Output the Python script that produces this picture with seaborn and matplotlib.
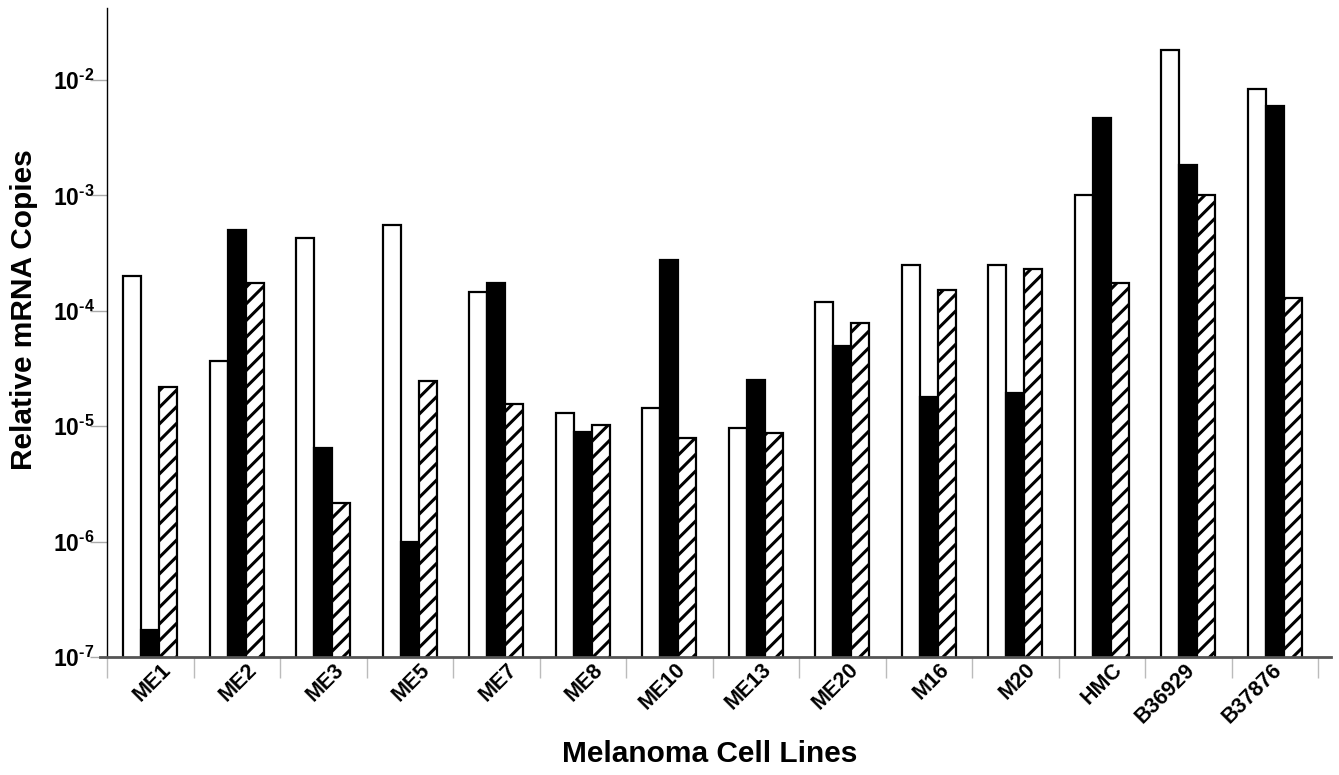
import matplotlib
matplotlib.use("Agg")
import matplotlib.pyplot as plt
import matplotlib.transforms as mtransforms
import seaborn as sns
import pandas as pd
import numpy as np
from matplotlib.ticker import FixedLocator, NullLocator

cell_lines = ["ME1", "ME2", "ME3", "ME5", "ME7", "ME8", "ME10", "ME13",
              "ME20", "M16", "M20", "HMC", "B36929", "B37876"]
series_names = ["Series A", "Series B", "Series C"]
series_a = [2.0e-4, 3.7e-5, 4.3e-4, 5.5e-4, 1.45e-4, 1.3e-5, 1.45e-5, 9.6e-6,
            1.2e-4, 2.5e-4, 2.5e-4, 1.0e-3, 1.8e-2, 8.3e-3]
series_b = [1.7e-7, 5.0e-4, 6.5e-6, 1.0e-6, 1.75e-4, 8.9e-6, 2.75e-4, 2.5e-5,
            5.0e-5, 1.8e-5, 1.95e-5, 4.7e-3, 1.85e-3, 5.9e-3]
series_c = [2.2e-5, 1.75e-4, 2.15e-6, 2.45e-5, 1.55e-5, 1.02e-5, 7.9e-6, 8.7e-6,
            7.9e-5, 1.5e-4, 2.3e-4, 1.75e-4, 1.0e-3, 1.28e-4]
y_ticks = [1e-7, 1e-6, 1e-5, 1e-4, 1e-3, 1e-2]
y_tick_labels = ["$10^{\u20107}$", "$10^{\u20106}$", "$10^{\u20105}$",
                 "$10^{\u20104}$", "$10^{\u20103}$", "$10^{\u20102}$"]

rows = []
for name, vals in zip(series_names, [series_a, series_b, series_c]):
    for cl, v in zip(cell_lines, vals):
        rows.append({"cell": cl, "series": name, "value": v})
df = pd.DataFrame(rows)

sns.set_style("white")
plt.rcParams["font.family"] = ["Liberation Sans", "DejaVu Sans"]
plt.rcParams["font.weight"] = "bold"
plt.rcParams["text.color"] = "black"
plt.rcParams["axes.labelcolor"] = "black"
plt.rcParams["xtick.labelcolor"] = "black"
plt.rcParams["ytick.labelcolor"] = "black"
plt.rcParams["mathtext.fontset"] = "custom"
plt.rcParams["mathtext.rm"] = "Liberation Sans:bold"
plt.rcParams["mathtext.bf"] = "Liberation Sans:bold"
plt.rcParams["mathtext.default"] = "rm"
plt.rcParams["hatch.linewidth"] = 2.2
plt.rcParams["hatch.color"] = "black"

W, H = 1339, 775
fig = plt.figure(figsize=(W/100, H/100), dpi=100)
ax_left_px, ax_right_px = 100, 1331
ax = fig.add_axes([ax_left_px/W, 1 - 657/H, (ax_right_px-ax_left_px)/W, (657-8)/H])

sns.barplot(data=df, x="cell", y="value", hue="series", order=cell_lines,
            hue_order=series_names, palette=["white", "black", "white"],
            width=0.62, edgecolor="black", linewidth=1.6, saturation=1,
            legend=False, ax=ax)
ax.set_yscale("log")

for bar in ax.containers[2]:
    bar.set_hatch("//")
    bar.set_edgecolor("black")

group_px = 86.5
ax.set_xlim(-0.5 - 7/group_px, 13.5 + 13/group_px)
ax.set_ylim(1e-7, 4.2e-2)

ax.yaxis.set_major_locator(FixedLocator(y_ticks))
ax.set_yticklabels(y_tick_labels)
ax.yaxis.set_minor_locator(NullLocator())
ax.tick_params(axis="y", which="major", length=12, width=1, color="#aaaaaa",
               labelcolor="black", direction="out", left=True, labelsize=16.5, pad=-3)

ax.set_xticks(np.arange(len(cell_lines)))
ax.set_xticklabels(cell_lines, rotation=45, ha="right", va="center",
                   rotation_mode="anchor", fontsize=15.5, fontweight="bold",
                   color="black")
ax.xaxis.set_minor_locator(FixedLocator(np.arange(-0.5, len(cell_lines), 1.0)))
ax.tick_params(axis="x", which="major", length=0, pad=7)
ax.tick_params(axis="x", which="minor", length=15, width=1, color="#bbbbbb",
               direction="out", bottom=True)
for lab in ax.get_xticklabels():
    shift_px = 17.5 - 4.5 * (len(lab.get_text()) - 3)
    offset = mtransforms.ScaledTranslation(shift_px/100, 0, fig.dpi_scale_trans)
    lab.set_transform(lab.get_transform() + offset)

ax.spines["top"].set_visible(False)
ax.spines["right"].set_visible(False)
ax.spines["left"].set_position(("data", -0.5))
ax.spines["left"].set_color("black")
ax.spines["left"].set_linewidth(1.0)
ax.spines["bottom"].set_color("#555555")
ax.spines["bottom"].set_linewidth(2.0)

axw = ax_right_px - ax_left_px
ax.set_xlabel("Melanoma Cell Lines", fontsize=21.5, fontweight="bold", color="black")
ax.xaxis.set_label_coords((710 - ax_left_px)/axw, -0.128)
ax.set_ylabel("Relative mRNA Copies", fontsize=21.5, fontweight="bold", color="black")
ax.yaxis.set_label_coords((38 - ax_left_px)/axw, 0.535)

fig.savefig("out.png", dpi=100)
